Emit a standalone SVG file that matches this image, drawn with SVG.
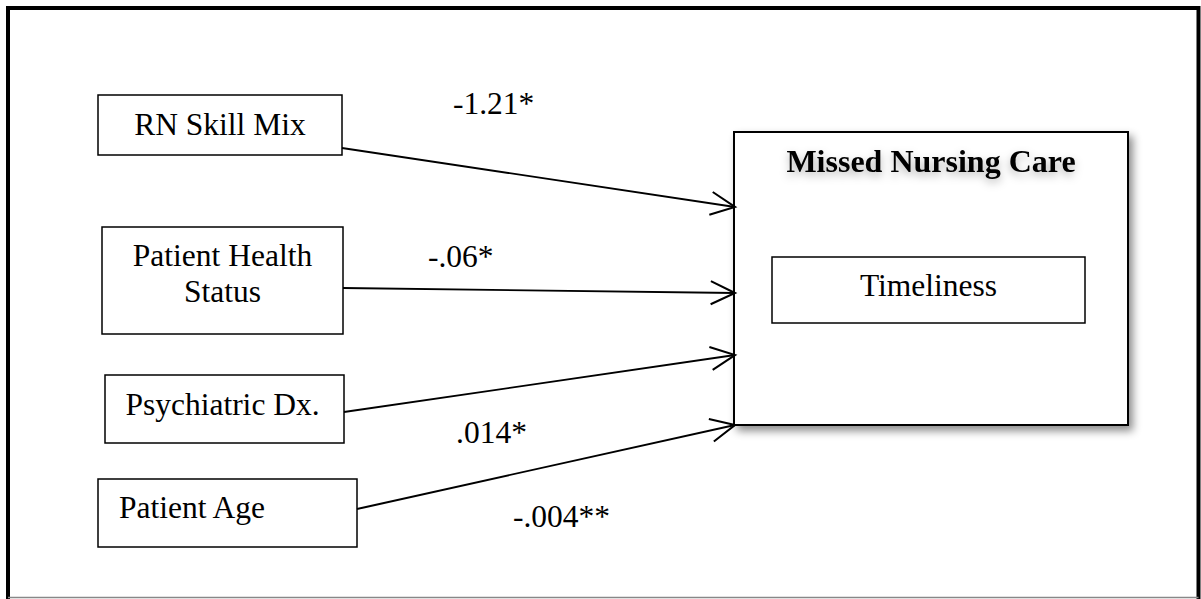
<svg xmlns="http://www.w3.org/2000/svg" width="1201" height="599" viewBox="0 0 1201 599">
  <style>
    .box { fill: #fff; stroke: #000; stroke-width: 1.5; }
    .big { fill: #fff; stroke: #000; stroke-width: 2; }
    .t { font-family: "Liberation Serif", "Times New Roman", serif; font-size: 31.5px; fill: #000; }
    .c { text-anchor: middle; }
    .b { font-weight: bold; font-size: 32px; }
    .conn { stroke: #000; stroke-width: 1.8; fill: none; marker-end: url(#arrow); }
  </style>
  <defs>
    <marker id="arrow" markerUnits="userSpaceOnUse" markerWidth="30" markerHeight="30" viewBox="-24 -12 26 24" refX="0" refY="0" orient="auto" overflow="visible">
      <path d="M-21,-10 L0,0 L-21,10" fill="none" stroke="#000" stroke-width="1.8"/>
    </marker>
    <filter id="shadow" x="-10%" y="-10%" width="125%" height="130%">
      <feDropShadow dx="4" dy="5" stdDeviation="4" flood-color="#000" flood-opacity="0.45"/>
    </filter>
    <filter id="glow" x="-10%" y="-30%" width="120%" height="180%">
      <feDropShadow dx="0" dy="4" stdDeviation="4" flood-color="#000" flood-opacity="0.3"/>
    </filter>
  </defs>
  <rect width="1201" height="599" fill="#fff"/>
  <g id="frame">
    <path d="M8,599 L8,8 L1198.5,8 L1198.5,599" fill="none" stroke="#000" stroke-width="4"/>
    <line x1="8" y1="597.5" x2="1198.5" y2="597.5" stroke="#888" stroke-width="1.5"/>
  </g>
  <g id="missed-nursing-care">
    <rect class="big" x="734" y="132" width="394" height="293" filter="url(#shadow)"/>
    <text class="t c b" x="931" y="172" filter="url(#glow)">Missed Nursing Care</text>
  </g>
  <g id="timeliness">
    <rect class="box" x="772" y="257" width="313" height="66"/>
    <text class="t c" x="928.5" y="296">Timeliness</text>
  </g>
  <g id="rn-skill-mix">
    <rect class="box" x="98" y="95" width="244" height="60"/>
    <text class="t c" x="220" y="135">RN Skill Mix</text>
  </g>
  <g id="patient-health-status">
    <rect class="box" x="102" y="227" width="241" height="107"/>
    <text class="t c" x="222.5" y="266">Patient Health</text>
    <text class="t c" x="222.5" y="302">Status</text>
  </g>
  <g id="psychiatric-dx">
    <rect class="box" x="105" y="375" width="239" height="68"/>
    <text class="t c" x="222.5" y="415">Psychiatric Dx.</text>
  </g>
  <g id="patient-age">
    <rect class="box" x="98" y="479" width="259" height="68"/>
    <text class="t" x="119" y="518">Patient Age</text>
  </g>
  <g id="connectors">
    <line class="conn" x1="342" y1="148" x2="735" y2="207"/>
    <line class="conn" x1="343" y1="288" x2="735" y2="293"/>
    <line class="conn" x1="344" y1="412" x2="735" y2="355"/>
    <line class="conn" x1="357" y1="509" x2="735" y2="425"/>
  </g>
  <g id="labels">
    <text class="t" x="453" y="114">-1.21*</text>
    <text class="t" x="428" y="267">-.06*</text>
    <text class="t" x="456" y="443">.014*</text>
    <text class="t" x="513" y="527">-.004**</text>
  </g>
</svg>
